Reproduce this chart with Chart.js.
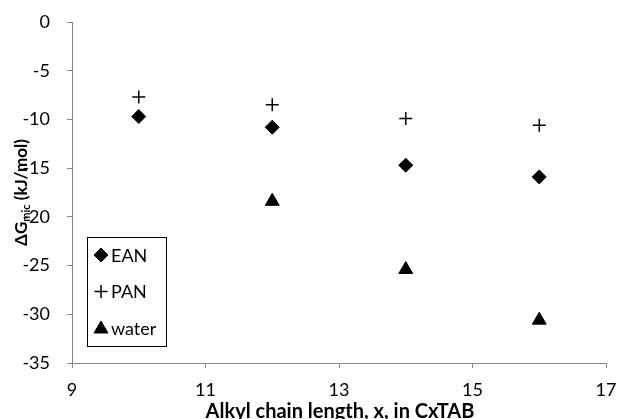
<!DOCTYPE html>
<html>
<head>
<meta charset="utf-8">
<script src="https://cdn.jsdelivr.net/npm/chart.js@4/dist/chart.umd.min.js"></script>
<style>
  html, body { margin: 0; padding: 0; background: #fff; }
  #wrap { width: 617px; height: 419px; }
</style>
</head>
<body>
<div id="wrap"><canvas id="micChart" width="617" height="419"></canvas></div>
<script>
// alkyl chain length (C10, C12, C14, C16)
const chainLength = [10, 12, 14, 16];
const eanValues = [-9.7, -10.8, -14.7, -15.9];
const panValues = [-7.7, -8.5, -9.9, -10.6];
const waterChain = [12, 14, 16];
const waterValues = [-18.4, -25.4, -30.6];
const xTicks = [9, 11, 13, 15, 17];
const yTicks = [0, -5, -10, -15, -20, -25, -30, -35];

const FONT = 'Lato, "Open Sans", sans-serif';
const axisGrey = '#888888';

function toPoints(xs, ys) {
  return xs.map((x, i) => ({ x: x, y: ys[i] }));
}

// legend box drawn inside the plot, lower left
const boxLegend = {
  id: 'boxLegend',
  afterDatasetsDraw(chart) {
    const ctx = chart.ctx;
    const left = 87, top = 237, w = 79, h = 109;
    ctx.save();
    ctx.fillStyle = '#fff';
    ctx.fillRect(left, top, w, h);
    ctx.strokeStyle = '#000';
    ctx.lineWidth = 1;
    ctx.strokeRect(left + 0.5, top + 0.5, w, h);
    ctx.font = '18px ' + FONT;
    ctx.textBaseline = 'middle';
    chart.data.datasets.forEach((ds, i) => {
      const cy = top + 18 + i * 36.5;
      ctx.fillStyle = '#000';
      ctx.strokeStyle = '#000';
      ctx.lineWidth = ds.borderWidth;
      Chart.helpers.drawPoint(ctx, {
        pointStyle: ds.pointStyle,
        radius: ds.pointRadius,
        borderWidth: ds.borderWidth
      }, left + 14, cy + (ds.pointStyle === 'triangle' ? 1 : 0));
      ctx.fillStyle = '#000';
      ctx.fillText(ds.label, left + 24, cy + 1);
    });
    ctx.restore();
  }
};

// axis titles (y title needs a subscript)
const axisTitles = {
  id: 'axisTitles',
  afterDraw(chart) {
    const ctx = chart.ctx;
    const area = chart.chartArea;
    ctx.save();
    ctx.fillStyle = '#000';
    ctx.textBaseline = 'alphabetic';

    // x title
    ctx.font = 'bold 20px ' + FONT;
    ctx.textAlign = 'center';
    ctx.fillText('Alkyl chain length, x, in CxTAB', (area.left + area.right) / 2 + 1, 418);

    // y title, rotated
    const main1 = '\u0394G';
    const sub = 'mic';
    const main2 = ' (kJ/mol)';
    const bigFont = 'bold 17px ' + FONT;
    const smallFont = 'bold 11px ' + FONT;
    ctx.font = bigFont;
    const w1 = ctx.measureText(main1).width;
    const w3 = ctx.measureText(main2).width;
    ctx.font = smallFont;
    const w2 = ctx.measureText(sub).width;
    const total = w1 + w2 + w3;
    ctx.translate(27, (area.top + area.bottom) / 2);
    ctx.rotate(-Math.PI / 2);
    ctx.textAlign = 'left';
    let x = -total / 2;
    ctx.font = bigFont;
    ctx.fillText(main1, x, 0);
    x += w1;
    ctx.font = smallFont;
    ctx.fillText(sub, x, 3);
    x += w2;
    ctx.font = bigFont;
    ctx.fillText(main2, x, 0);
    ctx.restore();
  }
};

new Chart(document.getElementById('micChart').getContext('2d'), {
  type: 'scatter',
  data: {
    datasets: [
      {
        label: 'EAN',
        data: toPoints(chainLength, eanValues),
        pointStyle: 'rectRot',
        pointRadius: 7,
        backgroundColor: '#000',
        borderColor: '#000',
        borderWidth: 1
      },
      {
        label: 'PAN',
        data: toPoints(chainLength, panValues),
        pointStyle: 'cross',
        pointRadius: 6.5,
        backgroundColor: '#000',
        borderColor: '#000',
        borderWidth: 1.5
      },
      {
        label: 'water',
        data: toPoints(waterChain, waterValues),
        pointStyle: 'triangle',
        pointRadius: 8,
        backgroundColor: '#000',
        borderColor: '#000',
        borderWidth: 1
      }
    ]
  },
  options: {
    responsive: false,
    animation: false,
    layout: { padding: { top: 22, right: 11, left: 0, bottom: 0 } },
    plugins: {
      legend: { display: false },
      tooltip: { enabled: false }
    },
    scales: {
      x: {
        type: 'linear',
        min: 9,
        max: 17,
        afterBuildTicks: (scale) => { scale.ticks = xTicks.map(v => ({ value: v })); },
        afterFit: (scale) => {
          scale.height = 56;
          scale.paddingLeft = 0;
          scale.paddingRight = 0;
        },
        border: { color: axisGrey, width: 1 },
        grid: { drawOnChartArea: false, drawTicks: true, tickLength: 5, color: axisGrey },
        ticks: { color: '#000', font: { family: FONT, size: 18 }, padding: 11 }
      },
      y: {
        type: 'linear',
        min: -35,
        max: 0,
        afterBuildTicks: (scale) => { scale.ticks = yTicks.map(v => ({ value: v })); },
        afterFit: (scale) => {
          scale.width = 72;
          scale.paddingTop = 0;
          scale.paddingBottom = 0;
        },
        border: { color: axisGrey, width: 1 },
        grid: { drawOnChartArea: false, drawTicks: true, tickLength: 5, color: axisGrey },
        ticks: { color: '#000', font: { family: FONT, size: 18 }, padding: 17 }
      }
    }
  },
  plugins: [boxLegend, axisTitles]
});
</script>
</body>
</html>
